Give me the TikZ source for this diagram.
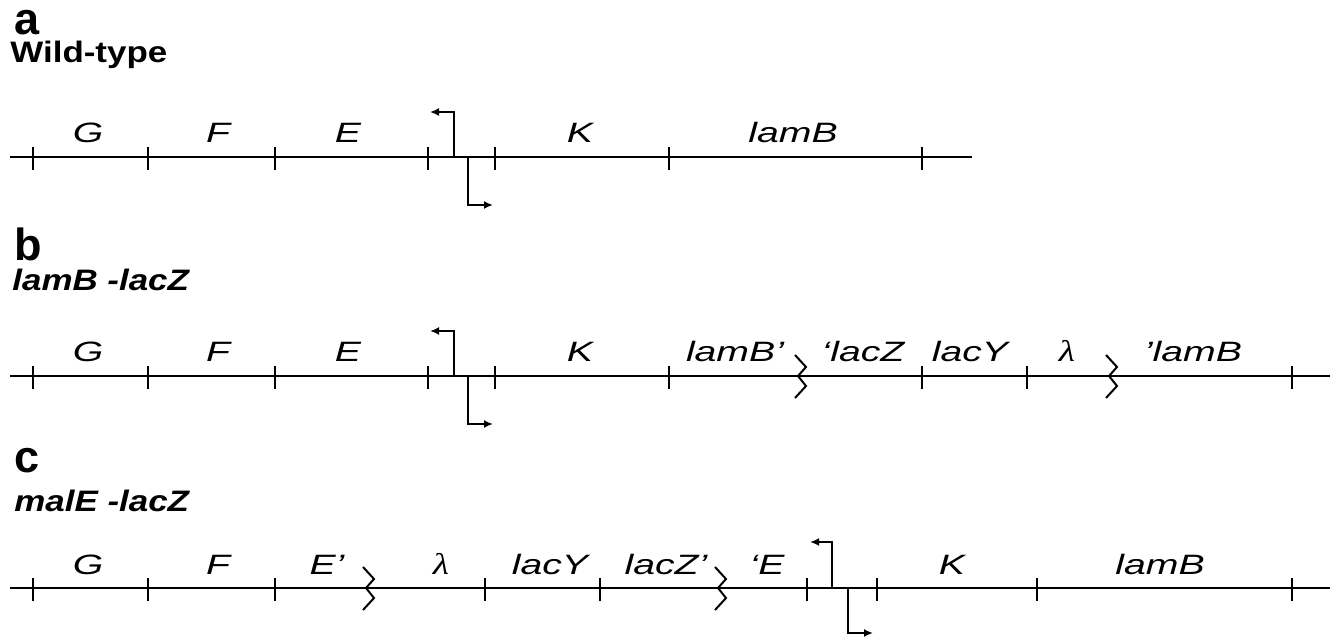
\documentclass[tikz,border=0pt]{standalone}
\usepackage{fontspec}
\setmainfont{Liberation Sans}
\newfontfamily\genefont{Liberation Sans}[FakeStretch=1.4]
\newfontfamily\titlefont{Liberation Sans}[FakeStretch=1.18]
\newfontfamily\lamfont{Liberation Serif}[FakeStretch=1.25]
\usetikzlibrary{arrows.meta}
\begin{document}
\begin{tikzpicture}[x=0.5pt,y=-0.5pt,
  dna/.style={line width=1.25pt},
  tickmark/.style={line width=1pt},
  promarrow/.style={line width=1.25pt,-{Latex[length=4.5pt,width=4pt]}},
  gene/.style={font=\genefont\itshape\fontsize{14}{16}\selectfont,anchor=base,inner sep=0pt},
  lam/.style={font=\lamfont\itshape\fontsize{15}{17}\selectfont,anchor=base,inner sep=0pt},
  panel/.style={font=\bfseries\fontsize{22.5}{26}\selectfont,anchor=base west,inner sep=0pt},
  subtitle/.style={font=\titlefont\bfseries\fontsize{14.8}{17}\selectfont,anchor=base west,inner sep=0pt},
  zig/.pic={\draw[line width=1pt] (0,-21) -- (11,-9) -- (3,0) -- (11,10) -- (0,22);}
]
\useasboundingbox (0,0) rectangle (1337,640);

% ---------- panel a ----------
\node[panel] (pa) at (14,35) {a};
\node[subtitle] (ta) at (10,63) {Wild-type};
\coordinate (a0) at (10,157);
\coordinate (a1) at (972,157);
\draw[dna] (a0) -- (a1);
\foreach \x in {33,148,275,428,495,669,922}
  \draw[tickmark] (\x,147) -- (\x,170);
\coordinate (apu) at (454,157);
\coordinate (apd) at (468,157);
\draw[promarrow] (apu) -- (454,112) -- (430,112);
\draw[promarrow] (apd) -- (468,205) -- (493,205);
\node[gene] (aG) at (88,143) {G};
\node[gene] (aF) at (218,143) {F};
\node[gene] (aE) at (348,143) {E};
\node[gene] (aK) at (580,143) {K};
\node[gene] (aL) at (793,143) {lamB};

% ---------- panel b ----------
\node[panel] (pb) at (14,261) {b};
\node[subtitle] (tb) at (12,291) {\itshape lamB -lacZ};
\coordinate (b0) at (10,376);
\coordinate (b1) at (1330,376);
\draw[dna] (b0) -- (b1);
\foreach \x in {33,148,275,428,495,669,922,1027,1292}
  \draw[tickmark] (\x,366) -- (\x,389);
\coordinate (bpu) at (454,376);
\coordinate (bpd) at (468,376);
\draw[promarrow] (bpu) -- (454,331) -- (430,331);
\draw[promarrow] (bpd) -- (468,424) -- (493,424);
\pic at (795,376) {zig};
\pic at (1106,376) {zig};
\node[gene] (bG) at (88,362) {G};
\node[gene] (bF) at (218,362) {F};
\node[gene] (bE) at (348,362) {E};
\node[gene] (bK) at (580,362) {K};
\node[gene] (bL1) at (735,362) {lamB’};
\node[gene] (bZ) at (863,362) {‘lacZ};
\node[gene] (bY) at (970,362) {lacY};
\node[lam] (bl) at (1067,362) {λ};
\node[gene] (bL2) at (1193,362) {’lamB};

% ---------- panel c ----------
\node[panel] (pc) at (14,473) {c};
\node[subtitle] (tc) at (14,511) {\itshape malE -lacZ};
\coordinate (c0) at (10,588);
\coordinate (c1) at (1330,588);
\draw[dna] (c0) -- (c1);
\foreach \x in {33,148,275,485,600,807,877,1037,1292}
  \draw[tickmark] (\x,578) -- (\x,601);
\coordinate (cpu) at (832,588);
\coordinate (cpd) at (848,588);
\draw[promarrow] (cpu) -- (832,542) -- (810,542);
\draw[promarrow] (cpd) -- (848,633) -- (873,633);
\pic at (363,588) {zig};
\pic at (715,588) {zig};
\node[gene] (cG) at (88,574) {G};
\node[gene] (cF) at (218,574) {F};
\node[gene] (cE1) at (327,574) {E’};
\node[lam] (cl) at (441,574) {λ};
\node[gene] (cY) at (550,574) {lacY};
\node[gene] (cZ) at (666,574) {lacZ’};
\node[gene] (cE2) at (767,574) {‘E};
\node[gene] (cK) at (952,574) {K};
\node[gene] (cL) at (1160,574) {lamB};
\end{tikzpicture}
\end{document}
